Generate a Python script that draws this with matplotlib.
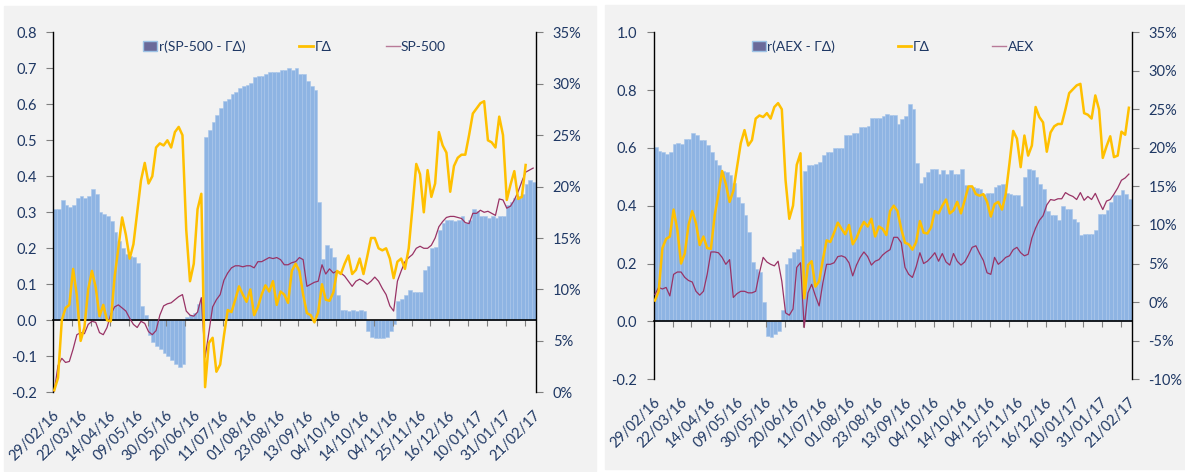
import numpy as np
import matplotlib
matplotlib.use('Agg')
import matplotlib.pyplot as plt
from matplotlib.patches import Rectangle, Patch
from matplotlib.lines import Line2D
from matplotlib.ticker import FuncFormatter, MultipleLocator

plt.rcParams['font.family'] = ['Lato', 'DejaVu Sans']

# category labels (one every 15 trading days)
dates = ['29/02/16', '22/03/16', '14/04/16', '09/05/16', '30/05/16', '20/06/16',
         '11/07/16', '01/08/16', '23/08/16', '13/09/16', '04/10/16', '14/10/16',
         '04/11/16', '25/11/16', '16/12/16', '10/01/17', '31/01/17', '21/02/17']
n_days = 256
step = 2   # values read every second trading day

# Gamma-Delta, cumulative (%), shared by both panels
gamma_delta = [0.2, 1.4, 7.0, 8.2, 8.5, 12.0, 9.4, 5.0, 6.3, 10.0,
               11.8, 10.2, 7.4, 8.5, 7.0, 6.9, 11.2, 14.0, 17.0, 15.3,
               13.0, 14.4, 17.5, 20.6, 22.3, 20.3, 21.0, 23.8, 24.2, 24.0,
               24.5, 23.8, 25.3, 25.8, 25.0, 15.8, 10.8, 12.5, 17.8, 19.3,
               0.5, 4.8, 5.3, 2.0, 2.7, 5.5, 8.0, 7.8, 9.0, 10.3,
               9.5, 8.8, 10.0, 7.5, 8.3, 9.5, 10.4, 9.8, 10.8, 8.5,
               9.8, 9.5, 8.7, 11.8, 12.5, 11.8, 9.5, 7.7, 7.5, 6.8,
               7.8, 10.5, 9.0, 8.9, 9.7, 11.8, 11.5, 12.5, 13.3, 11.5,
               11.9, 13.0, 11.5, 13.2, 15.0, 15.0, 14.0, 13.8, 14.0, 13.0,
               11.1, 12.7, 13.0, 12.0, 14.0, 18.0, 22.2, 21.2, 17.5, 21.6,
               19.0, 20.3, 25.3, 24.0, 23.3, 19.5, 22.0, 22.8, 23.1, 23.1,
               25.0, 27.1, 27.6, 28.1, 28.3, 24.5, 24.3, 23.8, 26.8, 25.0,
               18.7, 20.2, 21.5, 18.8, 19.0, 22.1, 21.7, 25.2]

# S&P 500 cumulative return (%)
sp500 = [0.1, 2.6, 3.3, 2.9, 3.0, 4.2, 5.6, 5.8, 5.7, 6.6,
         6.9, 6.8, 5.8, 5.6, 6.3, 7.6, 8.3, 8.5, 8.2, 7.9,
         7.2, 6.6, 6.3, 6.9, 6.7, 5.9, 5.6, 6.0, 7.5, 8.4,
         8.6, 8.7, 9.0, 9.3, 9.5, 7.9, 7.5, 7.4, 7.8, 9.2,
         3.4, 5.8, 8.3, 9.0, 9.5, 10.9, 11.6, 12.1, 12.3, 12.3,
         12.2, 12.3, 12.3, 12.1, 12.7, 12.7, 12.9, 13.1, 13.0, 13.1,
         12.9, 12.4, 12.4, 12.6, 12.7, 13.1, 12.9, 10.3, 10.5, 10.7,
         10.8, 12.4, 11.5, 12.0, 11.6, 11.8, 11.6, 11.3, 10.8, 10.3,
         10.8, 11.0, 10.8, 10.5, 10.8, 11.2, 10.8, 10.1, 9.5, 8.4,
         7.9, 10.8, 11.8, 12.7, 13.1, 13.4, 14.0, 14.2, 14.0, 14.0,
         14.3, 15.0, 16.1, 16.6, 17.0, 17.1, 17.1, 17.0, 16.9, 16.5,
         16.4, 17.4, 17.4, 17.7, 17.5, 17.6, 17.4, 17.2, 18.8, 18.7,
         17.9, 18.1, 18.7, 19.5, 20.5, 21.4, 21.6, 21.8]

# rolling correlation r(SP-500 - Gamma-Delta)
r_sp500 = [0.31, 0.31, 0.333, 0.32, 0.315, 0.32, 0.34, 0.345, 0.34, 0.345,
           0.365, 0.35, 0.30, 0.295, 0.29, 0.275, 0.245, 0.22, 0.20, 0.185,
           0.18, 0.175, 0.16, 0.04, 0.015, -0.04, -0.06, -0.07, -0.08, -0.09,
           -0.10, -0.11, -0.12, -0.13, -0.12, 0.01, 0.015, 0.02, 0.045, 0.05,
           0.51, 0.53, 0.55, 0.57, 0.59, 0.61, 0.615, 0.63, 0.635, 0.645,
           0.65, 0.655, 0.66, 0.675, 0.68, 0.68, 0.685, 0.69, 0.69, 0.69,
           0.695, 0.695, 0.70, 0.695, 0.70, 0.685, 0.685, 0.665, 0.65, 0.64,
           0.33, 0.17, 0.21, 0.20, 0.175, 0.07, 0.03, 0.028, 0.025, 0.028,
           0.026, 0.028, 0.025, -0.03, -0.045, -0.05, -0.05, -0.05, -0.045, -0.03,
           -0.01, 0.055, 0.06, 0.07, 0.085, 0.08, 0.08, 0.08, 0.14, 0.15,
           0.20, 0.205, 0.25, 0.27, 0.28, 0.28, 0.275, 0.28, 0.29, 0.27,
           0.28, 0.31, 0.305, 0.29, 0.29, 0.285, 0.29, 0.285, 0.29, 0.29,
           0.32, 0.33, 0.34, 0.345, 0.35, 0.38, 0.39, 0.385]

# AEX cumulative return (%)
aex = [1.0, 1.9, 1.7, 1.9, 0.8, 3.6, 3.9, 3.9, 3.2, 2.8,
       2.6, 1.4, 0.9, 1.4, 3.6, 6.5, 6.5, 6.4, 5.8, 4.9,
       5.5, 0.6, 1.1, 1.4, 1.4, 1.2, 1.2, 1.4, 3.8, 5.8,
       5.2, 4.9, 4.7, 5.3, 2.7, -1.4, -1.7, -0.9, 4.5, 5.1,
       -3.3, 1.2, 2.3, 0.8, -0.5, 2.5, 4.9, 4.9, 5.1, 5.9,
       6.0, 5.8, 5.1, 3.4, 4.8, 5.8, 6.5, 5.9, 4.8, 5.3,
       5.5, 6.1, 6.5, 6.8, 8.4, 8.4, 7.7, 4.5, 3.6, 3.2,
       4.6, 6.4, 5.0, 5.3, 5.8, 6.4, 5.3, 6.3, 5.2, 4.8,
       6.3, 5.3, 4.8, 5.2, 6.1, 7.1, 7.3, 6.3, 5.4, 3.8,
       3.6, 5.8, 4.9, 5.3, 5.8, 6.0, 6.8, 7.1, 6.4, 6.0,
       6.2, 8.3, 9.6, 10.6, 11.2, 12.6, 13.3, 13.2, 13.4, 13.4,
       14.2, 13.9, 13.7, 13.3, 14.2, 13.2, 13.7, 13.3, 14.1, 13.0,
       12.0, 13.1, 13.3, 14.0, 14.8, 15.8, 16.1, 16.6]

# rolling correlation r(AEX - Gamma-Delta)
r_aex = [0.603, 0.59, 0.586, 0.58, 0.585, 0.615, 0.618, 0.615, 0.63, 0.632,
         0.65, 0.645, 0.626, 0.626, 0.61, 0.586, 0.557, 0.54, 0.52, 0.515,
         0.505, 0.48, 0.43, 0.41, 0.367, 0.31, 0.205, 0.18, 0.17, 0.067,
         -0.05, -0.055, -0.045, -0.035, 0.04, 0.20, 0.22, 0.24, 0.25, 0.26,
         0.52, 0.54, 0.54, 0.545, 0.551, 0.574, 0.586, 0.586, 0.60, 0.60,
         0.60, 0.644, 0.644, 0.65, 0.65, 0.672, 0.672, 0.675, 0.703, 0.703,
         0.705, 0.71, 0.718, 0.715, 0.713, 0.684, 0.70, 0.71, 0.753, 0.736,
         0.546, 0.48, 0.50, 0.515, 0.528, 0.528, 0.51, 0.522, 0.51, 0.525,
         0.51, 0.51, 0.528, 0.47, 0.465, 0.465, 0.46, 0.459, 0.44, 0.445,
         0.445, 0.465, 0.47, 0.476, 0.445, 0.44, 0.436, 0.436, 0.40, 0.50,
         0.528, 0.525, 0.50, 0.476, 0.459, 0.38, 0.367, 0.367, 0.35, 0.40,
         0.39, 0.39, 0.355, 0.344, 0.298, 0.303, 0.303, 0.303, 0.315, 0.37,
         0.373, 0.384, 0.413, 0.436, 0.436, 0.453, 0.44, 0.424]

text_col = '#1f3864'
bar_col = '#8eb4e3'
gold = '#ffc000'
plum = '#993366'
bg = '#f2f2f2'

W, H = 1185, 472
fig = plt.figure(figsize=(W / 100, H / 100), dpi=100, facecolor='white')
fig.patches.append(Rectangle((4 / W, 1 - 471 / H), 592 / W, 465 / H,
                             transform=fig.transFigure, color=bg, zorder=-10))
fig.patches.append(Rectangle((605 / W, 1 - 469 / H), 580 / W, 464 / H,
                             transform=fig.transFigure, color=bg, zorder=-10))


def panel(rect, bars, idx, name, rlim, rstep, plim, gd_count, colspace):
    ax = fig.add_axes(rect)
    ax.patch.set_visible(False)
    x = np.arange(len(bars)) * step
    ax.bar(x - 0.5, bars, width=step, align='edge', color=bar_col,
           edgecolor='#a9c6ea', linewidth=0.4)
    ax.set_xlim(-0.5, n_days - 0.5)
    ax.set_ylim(*rlim)
    ax.yaxis.set_major_locator(MultipleLocator(rstep))
    ax.yaxis.set_major_formatter(FuncFormatter(lambda v, p: f'{round(v, 1) + 0:.1f}'))
    ax.set_xticks(np.arange(0, n_days, 10) - 0.5)
    ax.tick_params(axis='x', direction='out', length=4, color='#808080', labelbottom=False)
    ax.tick_params(axis='y', direction='out', length=5, color='#808080',
                   labelcolor=text_col, labelsize=10.5, pad=7)
    for s in ['top', 'right']:
        ax.spines[s].set_visible(False)
    ax.spines['bottom'].set_position(('data', 0))
    ax.spines['bottom'].set_linewidth(1.2)
    ax.spines['left'].set_linewidth(1.0)

    for k, lbl in enumerate(dates):
        ax.annotate(lbl, xy=(k * 15, 0), xycoords=('data', 'axes fraction'),
                    xytext=(2, -15), textcoords='offset points', rotation=45,
                    ha='right', va='center', rotation_mode='anchor',
                    color=text_col, fontsize=10.5)

    ax2 = ax.twinx()
    gd = gamma_delta[:gd_count]
    ax2.plot(np.arange(len(idx)) * step, idx, color=plum, lw=0.9)
    ax2.plot(np.arange(len(gd)) * step, gd, color=gold, lw=1.8)
    ax2.set_ylim(*plim)
    ax2.yaxis.set_major_locator(MultipleLocator(5))
    ax2.yaxis.set_major_formatter(FuncFormatter(lambda v, p: f'{v:.0f}%'))
    ax2.tick_params(axis='y', direction='out', length=5, color='#808080',
                    labelcolor=text_col, labelsize=10.5, pad=7)
    for s in ['top', 'bottom', 'left']:
        ax2.spines[s].set_visible(False)
    ax2.spines['right'].set_linewidth(1.0)

    handles = [Patch(facecolor='#6a6a9a', edgecolor='#9dc3e6'),
               Line2D([], [], color=gold, lw=2),
               Line2D([], [], color='#b87a98', lw=1)]
    labels = ['r(' + name + ' - ΓΔ)', 'ΓΔ', name]
    ax2.legend(handles, labels, loc='upper center', bbox_to_anchor=(0.5, 1.0),
               ncol=3, frameon=False, fontsize=10, handlelength=1.0,
               handletextpad=0.1, columnspacing=colspace, borderaxespad=0.2,
               labelcolor=text_col)
    return ax, ax2


panel([53.3 / W, 1 - 392.3 / H, 482.7 / W, 360 / H], r_sp500, sp500, 'SP-500',
      (-0.2, 0.8), 0.1, (0, 35), 126, 3.9)
panel([654 / W, 1 - 379.2 / H, 477.7 / W, 347 / H], r_aex, aex, 'AEX',
      (-0.2, 1.0), 0.2, (-10, 35), len(gamma_delta), 4.5)

plt.savefig('out.png', dpi=100, facecolor=fig.get_facecolor())
